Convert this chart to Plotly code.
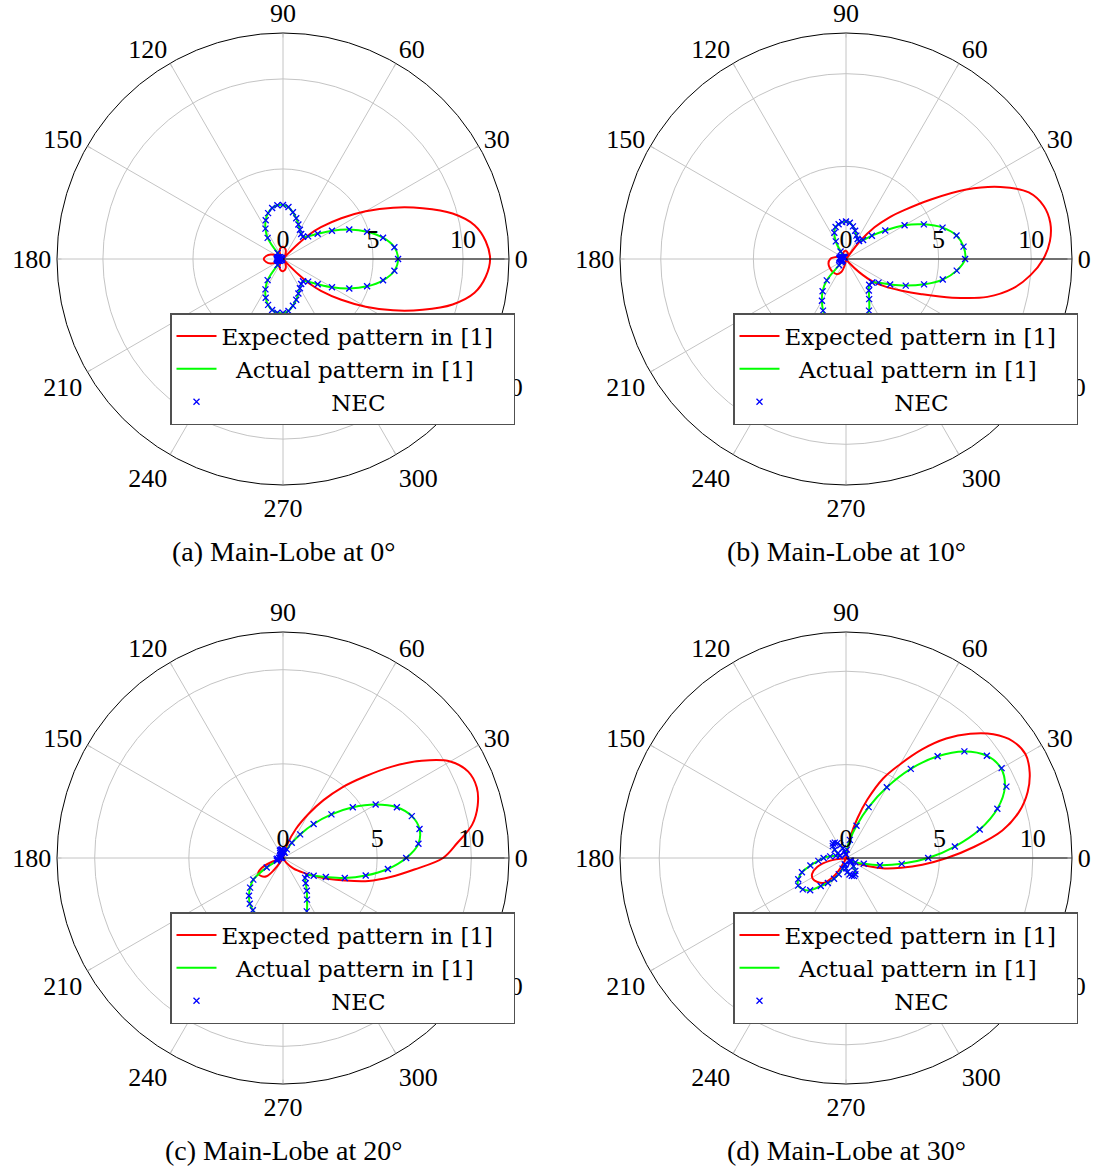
import plotly.graph_objects as go

# ---------------- data ----------------
# angular sampling of the "Actual pattern" curve and NEC points (degrees)
theta6 = [-180, -174, -168, -162, -156, -150, -144, -138, -132, -126,
          -120, -114, -108, -102, -96, -90, -84, -78, -72, -66,
          -60, -54, -48, -42, -36, -30, -24, -18, -12, -6,
          0, 6, 12, 18, 24, 30, 36, 42, 48, 54,
          60, 66, 72, 78, 84, 90, 96, 102, 108, 114,
          120, 126, 132, 138, 144, 150, 156, 162, 168, 174]

# (a) Main-Lobe at 0 deg
red_a_theta = [-180, -170, -160, -150, -140, -120, -105, -90, -75, -60, -50, -47, -45, -43, -40,
               -35, -30, -25, -20, -15, -10, -5, 0, 5, 10, 15, 20, 25, 30, 35, 40, 43, 45, 47,
               50, 60, 75, 90, 105, 120, 140, 150, 160, 170, 180]
red_a_r = [1.07, 0.95, 0.72, 0.35, 0.05, 0.35, 0.60, 0.68, 0.55, 0.25, 0.05, 0.35, 1.20, 2.00, 2.75,
           3.95, 5.30, 6.75, 8.25, 9.75, 10.80, 11.30, 11.50, 11.30, 10.80, 9.75, 8.25, 6.75, 5.30, 3.95,
           2.75, 2.00, 1.20, 0.35, 0.05, 0.25, 0.55, 0.68, 0.60, 0.35, 0.05, 0.35, 0.72, 0.95, 1.07]
green_a = [0.35, 0.35, 0.33, 0.30, 0.26, 0.20, 0.12, 0.05, 0.45, 1.45,
           1.95, 2.36, 2.68, 2.90, 3.00, 3.00, 2.90, 2.65, 2.38, 2.10,
           1.88, 1.72, 1.66, 1.88, 2.38, 3.14, 4.03, 4.91, 5.68, 6.22,
           6.39, 6.22, 5.68, 4.91, 4.03, 3.14, 2.38, 1.88, 1.66, 1.72,
           1.88, 2.10, 2.38, 2.65, 2.90, 3.00, 3.00, 2.90, 2.68, 2.36,
           1.95, 1.45, 0.45, 0.05, 0.12, 0.20, 0.26, 0.30, 0.33, 0.35]
nec_a = [0.35, 0.34, 0.33, 0.30, 0.26, 0.20, 0.12, 0.06, 0.45, 1.45,
         1.95, 2.36, 2.68, 2.90, 3.00, 3.00, 2.90, 2.65, 2.38, 2.10,
         1.88, 1.72, 1.66, 1.88, 2.38, 3.14, 4.03, 4.91, 5.68, 6.22,
         6.39, 6.22, 5.68, 4.91, 4.03, 3.14, 2.38, 1.88, 1.66, 1.72,
         1.88, 2.10, 2.38, 2.65, 2.90, 3.00, 3.00, 2.90, 2.68, 2.36,
         1.95, 1.45, 0.45, 0.06, 0.12, 0.20, 0.26, 0.30, 0.33, 0.34]

# (b) Main-Lobe at 10 deg
red_b_theta = [-180, -165, -150, -135, -120, -110, -100, -90, -75, -65, -55, -50, -45, -40, -35,
               -30, -25, -20, -15, -10, -5, 0, 5, 10, 15, 20, 25, 30, 35, 40, 44, 48, 52, 56,
               60, 75, 95, 115, 135, 150, 165, 180]
red_b_r = [0.85, 0.98, 1.00, 1.00, 0.95, 0.75, 0.30, 0.05, 0.03, 0.02, 0.00, 0.30, 1.00, 1.90, 2.60,
           3.40, 4.50, 6.10, 7.90, 9.15, 10.00, 10.65, 11.05, 11.20, 11.05, 10.50, 9.20, 7.50, 5.60,
           4.10, 3.20, 2.30, 1.20, 0.00, 0.15, 0.35, 0.45, 0.35, 0.10, 0.20, 0.45, 0.85]
green_b = [0.35, 0.30, 0.25, 0.20, 0.20, 0.25, 0.30, 0.50, 1.55, 2.15,
           2.60, 3.05, 3.40, 3.60, 3.70, 3.70, 3.65, 3.55, 3.40, 3.05,
           2.50, 2.10, 1.87, 1.90, 2.17, 2.75, 3.53, 4.43, 5.34, 6.01,
           6.43, 6.38, 6.10, 5.48, 4.60, 3.65, 2.62, 1.88, 1.38, 1.20,
           1.25, 1.38, 1.60, 1.80, 1.97, 2.02, 2.00, 1.92, 1.82, 1.55,
           1.10, 0.50, 0.15, 0.10, 0.15, 0.20, 0.25, 0.30, 0.35, 0.35]
nec_b = [0.35, 0.30, 0.25, 0.20, 0.20, 0.25, 0.30, 0.50, 1.55, 2.15,
         2.60, 3.05, 3.40, 3.60, 3.70, 3.70, 3.65, 3.55, 3.40, 3.05,
         2.50, 2.10, 1.87, 1.90, 2.17, 2.75, 3.53, 4.43, 5.34, 6.01,
         6.43, 6.38, 6.10, 5.48, 4.60, 3.65, 2.62, 1.88, 1.38, 1.20,
         1.25, 1.38, 1.60, 1.80, 1.97, 2.02, 2.00, 1.92, 1.82, 1.55,
         1.10, 0.50, 0.15, 0.10, 0.15, 0.20, 0.25, 0.30, 0.35, 0.35]

# (c) Main-Lobe at 20 deg
red_c_theta = [-180, -165, -160, -155, -148, -140, -132, -127, -122, -115, -100, -80, -65, -55, -45,
               -35, -30, -25, -20, -15, -10, -5, 0, 5, 10, 15, 20, 25, 30, 35, 40, 45, 50, 55,
               60, 66, 72, 78, 90, 120, 150, 180]
red_c_r = [0.00, 0.00, 0.70, 1.25, 1.55, 1.50, 1.30, 0.80, 0.20, 0.00, 0.00, 0.00, 0.00, 0.30, 0.80,
           1.40, 1.90, 2.60, 3.50, 4.70, 5.80, 7.00, 8.50, 9.30, 10.20, 10.70, 10.95, 10.85, 10.25,
           9.00, 7.55, 6.10, 4.90, 3.75, 2.70, 1.70, 0.80, 0.00, 0.00, 0.00, 0.00, 0.00]
green_c = [0.20, 0.30, 0.35, 0.30, 0.35, 1.00, 1.95, 2.35, 2.70, 3.00,
           3.20, 3.35, 3.45, 3.45, 3.40, 3.35, 3.35, 3.40, 3.45, 3.10,
           2.55, 2.15, 1.80, 1.58, 1.55, 1.88, 2.49, 3.45, 4.49, 5.60,
           6.54, 7.23, 7.41, 7.19, 6.62, 5.68, 4.58, 3.46, 2.43, 1.55,
           0.93, 0.50, 0.30, 0.30, 0.35, 0.40, 0.45, 0.45, 0.45, 0.40,
           0.30, 0.20, 0.10, 0.05, 0.08, 0.12, 0.12, 0.10, 0.08, 0.12]
nec_c = [0.20, 0.30, 0.35, 0.30, 0.35, 1.00, 1.95, 2.35, 2.70, 3.00,
         3.20, 3.35, 3.45, 3.45, 3.40, 3.35, 3.35, 3.40, 3.45, 3.10,
         2.55, 2.15, 1.80, 1.58, 1.55, 1.88, 2.49, 3.45, 4.49, 5.60,
         6.54, 7.23, 7.41, 7.19, 6.62, 5.68, 4.58, 3.46, 2.43, 1.55,
         0.93, 0.50, 0.30, 0.30, 0.35, 0.40, 0.45, 0.45, 0.45, 0.40,
         0.30, 0.20, 0.10, 0.05, 0.08, 0.12, 0.12, 0.10, 0.08, 0.12]

# (d) Main-Lobe at 30 deg
red_d_theta = [-180, -175, -170, -163, -155, -148, -140, -132, -125, -120, -115, -110, -90, -60, -40,
               -32, -25, -20, -15, -10, -5, 0, 5, 10, 15, 20, 25, 30, 35, 40, 45, 50, 55, 60,
               65, 70, 74, 78, 82, 100, 140, 180]
red_d_r = [0.00, 0.00, 0.90, 1.60, 2.00, 2.10, 2.00, 1.80, 1.30, 0.80, 0.20, 0.00, 0.00, 0.00, 0.00,
           0.20, 0.70, 1.30, 2.15, 3.00, 4.10, 5.40, 6.90, 8.50, 9.60, 10.35, 10.85, 11.10, 10.90,
           10.30, 9.40, 8.35, 7.10, 5.80, 4.70, 3.30, 2.20, 1.20, 0.00, 0.00, 0.00, 0.00]
green_d = [1.20, 1.49, 1.95, 2.48, 2.80, 2.96, 2.86, 2.58, 2.02, 1.65,
           1.28, 0.95, 0.60, 0.35, 0.35, 0.55, 0.75, 0.90, 1.00, 1.05,
           1.00, 0.85, 0.60, 0.35, 0.25, 0.30, 0.55, 1.00, 1.86, 3.00,
           4.40, 5.86, 7.32, 8.52, 9.31, 9.59, 9.32, 8.53, 7.33, 5.90,
           4.37, 2.98, 1.82, 0.99, 0.45, 0.20, 0.20, 0.35, 0.55, 0.75,
           0.92, 1.02, 1.05, 0.95, 0.75, 0.50, 0.35, 0.35, 0.55, 0.85]
nec_d = [1.20, 1.49, 1.95, 2.48, 2.80, 2.96, 2.86, 2.58, 2.02, 1.65,
         1.28, 0.95, 0.60, 0.35, 0.35, 0.55, 0.75, 0.90, 1.00, 1.05,
         1.00, 0.85, 0.60, 0.35, 0.25, 0.30, 0.55, 1.00, 1.86, 3.00,
         4.40, 5.86, 7.32, 8.52, 9.40, 9.62, 9.32, 8.53, 7.33, 5.90,
         4.37, 2.98, 1.82, 0.99, 0.45, 0.20, 0.20, 0.35, 0.55, 0.75,
         0.92, 1.02, 1.05, 0.95, 0.75, 0.50, 0.35, 0.35, 0.55, 0.85]

radial_max = [12.55, 12.2, 12.0, 12.1]
angle_ticks = [0, 30, 60, 90, 120, 150, 180, 210, 240, 270, 300, 330]
angle_labels = ["0", "30", "60", "90", "120", "150", "180", "210", "240", "270", "300", "330"]
radial_ticks = [0, 5, 10]
radial_labels = ["0", "5", "10"]
captions = ["(a) Main-Lobe at 0°", "(b) Main-Lobe at 10°", "(c) Main-Lobe at 20°", "(d) Main-Lobe at 30°"]
NB = "\u00a0"
series_names = ["Expected pattern in [1]" + NB * 2, NB * 2 + "Actual pattern in [1]", NB * 15 + "NEC"]

# ---------------- figure ----------------
W, H = 1102, 1169
FONT = "Liberation Serif"
LEGFONT = "DejaVu Serif"
panels = [
    (red_a_theta, red_a_r, green_a, nec_a),
    (red_b_theta, red_b_r, green_b, nec_b),
    (red_c_theta, red_c_r, green_c, nec_c),
    (red_d_theta, red_d_r, green_d, nec_d),
]
# pixel geometry of each polar panel: centre x, centre y, radius
centres = [(283, 259), (846, 259), (283, 858), (846, 858)]
RAD = 226
TICK_OUT = 1.045  # outward extension of the angular grid lines beyond the rim

fig = go.Figure()
for i, (rt, rr, gr, nr) in enumerate(panels):
    sub = "polar" if i == 0 else f"polar{i + 1}"
    leg = "legend" if i == 0 else f"legend{i + 1}"
    R = radial_max[i]
    # short outward tick marks continuing the angular grid lines past the rim
    tk_t, tk_r = [], []
    for a in angle_ticks:
        tk_t += [a, a, None]
        tk_r += [R, R * TICK_OUT, None]
    fig.add_trace(go.Scatterpolar(
        r=tk_r, theta=tk_t, mode="lines", subplot=sub, showlegend=False, hoverinfo="skip",
        cliponaxis=False, line=dict(color="#c4c4c4", width=1)))
    fig.add_trace(go.Scatterpolar(
        r=rr, theta=rt, mode="lines", name=series_names[0], subplot=sub, legend=leg,
        line=dict(color="#ff0000", width=2, shape="spline", smoothing=1.0)))
    fig.add_trace(go.Scatterpolar(
        r=gr + gr[:1], theta=theta6 + theta6[:1], mode="lines", name=series_names[1],
        subplot=sub, legend=leg,
        line=dict(color="#00ff00", width=2, shape="spline", smoothing=1.0)))
    fig.add_trace(go.Scatterpolar(
        r=nr, theta=theta6, mode="markers", name=series_names[2], subplot=sub, legend=leg,
        marker=dict(symbol="x-thin", size=6, color="#0000ff",
                    line=dict(color="#0000ff", width=1.3))))

layout = dict(width=W, height=H, margin=dict(l=0, r=0, t=0, b=0),
              paper_bgcolor="white", plot_bgcolor="white",
              font=dict(family=FONT, size=26, color="black"), annotations=[])

for i, (cx, cy) in enumerate(centres):
    sub = "polar" if i == 0 else f"polar{i + 1}"
    leg = "legend" if i == 0 else f"legend{i + 1}"
    layout[sub] = dict(
        domain=dict(x=[(cx - RAD) / W, (cx + RAD) / W], y=[1 - (cy + RAD) / H, 1 - (cy - RAD) / H]),
        bgcolor="white",
        angularaxis=dict(rotation=0, direction="counterclockwise", tickmode="array",
                         tickvals=angle_ticks, ticktext=angle_labels,
                         showline=True, linecolor="black", linewidth=1,
                         showgrid=True, gridcolor="#c4c4c4", gridwidth=1,
                         ticks="inside", ticklen=4, tickcolor="#c4c4c4",
                         tickfont=dict(family=FONT, size=26, color="black")),
        radialaxis=dict(range=[0, radial_max[i]], tickmode="array", tickvals=radial_ticks,
                        ticktext=radial_labels, angle=0, side="counterclockwise",
                        showline=True, linecolor="black", linewidth=1, ticks="",
                        showgrid=True, gridcolor="#c4c4c4", gridwidth=1,
                        tickfont=dict(family=FONT, size=26, color="black")),
    )
    lx = (cx - 113) / W
    ly = 1 - (cy + 54) / H
    layout[leg] = dict(x=lx, y=ly, xanchor="left", yanchor="top", bgcolor="white",
                       bordercolor="#505050", borderwidth=1.5, tracegroupgap=0,
                       itemwidth=40, font=dict(family=LEGFONT, size=23, color="black"))
    layout["annotations"].append(dict(
        text=captions[i], x=cx / W, y=1 - (cy + 292) / H, xref="paper", yref="paper",
        xanchor="center", yanchor="middle", showarrow=False,
        font=dict(family=FONT, size=28, color="black")))

fig.update_layout(**layout)
fig.write_html("out.html")
